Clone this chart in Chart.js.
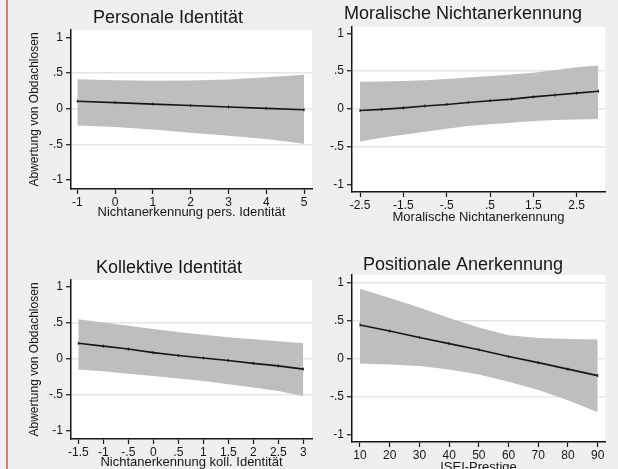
<!DOCTYPE html>
<html>
<head>
<meta charset="utf-8">
<title>Abwertung von Obdachlosen</title>
<script src="https://cdn.jsdelivr.net/npm/chart.js@4.4.1/dist/chart.umd.min.js"></script>
<style>
  html, body { margin: 0; padding: 0; background: #efefef; }
  #page { position: relative; width: 618px; height: 469px; overflow: hidden; background: #efefef; }
  #page canvas { position: absolute; left: 0; top: 0; }
  #edge { position: absolute; left: 6px; top: 0; width: 2px; height: 469px; background: #e27a64; }
</style>
</head>
<body>
<div id="page">
  <div id="edge"></div>
  <canvas id="pers" width="618" height="469"></canvas>
  <canvas id="moral" width="618" height="469"></canvas>
  <canvas id="koll" width="618" height="469"></canvas>
  <canvas id="isei" width="618" height="469"></canvas>
</div>
<script>
// Shared y axis: predicted devaluation of homeless people
const yTickValues = [-1, -0.5, 0, 0.5, 1];
const yTickLabels = ['-1', '-.5', '0', '.5', '1'];
const yTitle = 'Abwertung von Obdachlosen';

// Personale Identität
const persX = [-1, 0, 1, 2, 3, 4, 5];
const persFit = [0.105, 0.085, 0.065, 0.045, 0.025, 0.005, -0.015];
const persLo = [-0.235, -0.257, -0.29, -0.336, -0.378, -0.425, -0.49];
const persHi = [0.415, 0.40, 0.393, 0.395, 0.41, 0.44, 0.475];
const persTicks = [-1, 0, 1, 2, 3, 4, 5];
const persTickLabels = ['-1', '0', '1', '2', '3', '4', '5'];

// Moralische Nichtanerkennung
const moralX = [-2.5, -2, -1.5, -1, -0.5, 0, 0.5, 1, 1.5, 2, 2.5, 3];
const moralFit = [-0.02, -0.005, 0.015, 0.04, 0.06, 0.085, 0.11, 0.13, 0.16, 0.185, 0.21, 0.235];
const moralLo = [-0.43, -0.38, -0.34, -0.30, -0.26, -0.225, -0.20, -0.18, -0.16, -0.145, -0.138, -0.132];
const moralHi = [0.36, 0.364, 0.37, 0.38, 0.395, 0.415, 0.435, 0.455, 0.478, 0.515, 0.55, 0.575];
const moralTicks = [-2.5, -1.5, -0.5, 0.5, 1.5, 2.5];
const moralTickLabels = ['-2.5', '-1.5', '-.5', '.5', '1.5', '2.5'];

// Kollektive Identität
const kollX = [-1.5, -1, -0.5, 0, 0.5, 1, 1.5, 2, 2.5, 3];
const kollFit = [0.215, 0.175, 0.135, 0.085, 0.045, 0.01, -0.025, -0.065, -0.10, -0.145];
const kollLo = [-0.15, -0.175, -0.21, -0.24, -0.275, -0.31, -0.355, -0.40, -0.45, -0.52];
const kollHi = [0.55, 0.505, 0.46, 0.415, 0.372, 0.335, 0.30, 0.27, 0.245, 0.215];
const kollTicks = [-1.5, -1, -0.5, 0, 0.5, 1, 1.5, 2, 2.5, 3];
const kollTickLabels = ['-1.5', '-1', '-.5', '0', '.5', '1', '1.5', '2', '2.5', '3'];

// Positionale Anerkennung (ISEI-Prestige)
const iseiX = [10, 20, 30, 40, 50, 60, 70, 80, 90];
const iseiFit = [0.445, 0.365, 0.28, 0.20, 0.12, 0.03, -0.05, -0.135, -0.22];
const iseiLo = [-0.06, -0.075, -0.095, -0.14, -0.205, -0.30, -0.41, -0.545, -0.70];
const iseiHi = [0.92, 0.80, 0.675, 0.535, 0.41, 0.31, 0.275, 0.26, 0.255];
const iseiTicks = [10, 20, 30, 40, 50, 60, 70, 80, 90];
const iseiTickLabels = ['10', '20', '30', '40', '50', '60', '70', '80', '90'];

const FONT = '"Liberation Sans", Arial, Helvetica, sans-serif';
const INK = '#161616';
const BAND = '#bebebe';
const PAGE_W = 618, PAGE_H = 469;
const Y_AXIS_W = 45, X_AXIS_H = 26;

const pts = (xs, ys) => xs.map((x, i) => ({ x: x, y: ys[i] }));

// White plot region, headings and axis titles
const panelText = {
  id: 'panelText',
  beforeDraw(chart) {
    const a = chart.chartArea, ctx = chart.ctx;
    ctx.save();
    ctx.fillStyle = '#ffffff';
    ctx.fillRect(a.left, a.top, a.right - a.left, a.bottom - a.top);
    ctx.restore();
  },
  afterDraw(chart, args, o) {
    const a = chart.chartArea, ctx = chart.ctx;
    ctx.save();
    ctx.fillStyle = INK;
    ctx.textAlign = 'center';
    ctx.textBaseline = 'alphabetic';
    ctx.font = '18px ' + FONT;
    ctx.fillText(o.heading, o.headingX, o.headingY);
    ctx.font = '13px ' + FONT;
    ctx.fillText(o.xTitle, (a.left + a.right) / 2, a.bottom + o.xTitleGap);
    if (o.yTitle) {
      ctx.translate(o.yTitleX, (a.top + a.bottom) / 2);
      ctx.rotate(-Math.PI / 2);
      ctx.font = '12px ' + FONT;
      ctx.fillText(o.yTitle, 0, 0);
    }
    ctx.restore();
  }
};

function makePanel(id, p) {
  const gridAt = p.gridAt;
  new Chart(document.getElementById(id), {
    type: 'line',
    data: {
      datasets: [
        // confidence band: upper edge filled down to the lower edge
        { data: pts(p.x, p.hi), order: 2, borderWidth: 0, borderColor: BAND, backgroundColor: BAND,
          pointRadius: 0, fill: '+1', tension: 0 },
        { data: pts(p.x, p.lo), order: 3, borderWidth: 0, borderColor: BAND, backgroundColor: BAND,
          pointRadius: 0, fill: false, tension: 0 },
        // predicted values on top
        { data: pts(p.x, p.fit), order: 0, borderWidth: 1.6, borderColor: INK, fill: false, tension: 0,
          pointStyle: 'line', pointRotation: 90, pointRadius: 1.5, pointBorderWidth: 1,
          pointBorderColor: INK, pointBackgroundColor: INK }
      ]
    },
    options: {
      responsive: false,
      animation: false,
      events: [],
      layout: {
        padding: {
          left: p.area.l - Y_AXIS_W,
          top: p.area.t,
          right: PAGE_W - p.area.r,
          bottom: PAGE_H - p.area.b - X_AXIS_H
        }
      },
      plugins: {
        legend: { display: false },
        tooltip: { enabled: false },
        panelText: {
          heading: p.heading, headingX: p.headingX, headingY: p.headingY,
          xTitle: p.xTitle, xTitleGap: p.xTitleGap,
          yTitle: p.yTitle, yTitleX: p.yTitleX
        }
      },
      scales: {
        x: {
          type: 'linear',
          min: p.xMin, max: p.xMax,
          afterBuildTicks: s => { s.ticks = p.xTicks.map(v => ({ value: v })); },
          afterFit: s => { s.height = X_AXIS_H; },
          ticks: {
            autoSkip: false, maxRotation: 0, padding: 1,
            color: INK, font: { family: FONT, size: 12 },
            callback: (v, i) => p.xLabels[i]
          },
          grid: { drawOnChartArea: false, drawTicks: true, tickLength: 5,
                  tickColor: INK, tickWidth: 1.2 },
          border: { display: true, color: INK, width: 1.5 }
        },
        y: {
          type: 'linear',
          min: p.yMin, max: p.yMax,
          afterBuildTicks: s => { s.ticks = yTickValues.map(v => ({ value: v })); },
          afterFit: s => { s.width = Y_AXIS_W; },
          ticks: {
            autoSkip: false, padding: 3,
            color: INK, font: { family: FONT, size: 12 },
            callback: (v, i) => yTickLabels[i]
          },
          grid: {
            drawTicks: true, tickLength: 5, tickColor: INK, tickWidth: 1.2,
            lineWidth: 1.5,
            color: c => (c.tick && gridAt.includes(c.tick.value)) ? '#e6e6e6' : 'rgba(0,0,0,0)'
          },
          border: { display: true, color: INK, width: 1.5 }
        }
      }
    },
    plugins: [panelText]
  });
}

makePanel('pers', {
  area: { l: 71, t: 30, r: 312, b: 189 },
  xMin: -1.167, xMax: 5.21, yMin: -1.126, yMax: 1.104,
  x: persX, fit: persFit, lo: persLo, hi: persHi,
  xTicks: persTicks, xLabels: persTickLabels,
  gridAt: [-0.5, 0, 0.5],
  heading: 'Personale Identität', headingX: 168, headingY: 23,
  xTitle: 'Nichtanerkennung pers. Identität', xTitleGap: 27,
  yTitle: yTitle, yTitleX: 38
});

makePanel('moral', {
  area: { l: 352, t: 27, r: 605, b: 192 },
  xMin: -2.685, xMax: 3.153, yMin: -1.096, yMax: 1.083,
  x: moralX, fit: moralFit, lo: moralLo, hi: moralHi,
  xTicks: moralTicks, xLabels: moralTickLabels,
  gridAt: [-0.5, 0, 0.5],
  heading: 'Moralische Nichtanerkennung', headingX: 463, headingY: 19,
  xTitle: 'Moralische Nichtanerkennung', xTitleGap: 28.5,
  yTitle: null
});

makePanel('koll', {
  area: { l: 71, t: 280, r: 312, b: 439 },
  xMin: -1.646, xMax: 3.174, yMin: -1.12, yMax: 1.098,
  x: kollX, fit: kollFit, lo: kollLo, hi: kollHi,
  xTicks: kollTicks, xLabels: kollTickLabels,
  gridAt: [-0.5, 0, 0.5],
  heading: 'Kollektive Identität', headingX: 169, headingY: 273,
  xTitle: 'Nichtanerkennung koll. Identität', xTitleGap: 27,
  yTitle: yTitle, yTitleX: 38
});

makePanel('isei', {
  area: { l: 352, t: 275, r: 605, b: 442 },
  xMin: 7.31, xMax: 92.46, yMin: -1.092, yMax: 1.101,
  x: iseiX, fit: iseiFit, lo: iseiLo, hi: iseiHi,
  xTicks: iseiTicks, xLabels: iseiTickLabels,
  gridAt: [-0.5, 0, 0.5, 1],
  heading: 'Positionale Anerkennung', headingX: 463, headingY: 270,
  xTitle: 'ISEI-Prestige', xTitleGap: 29,
  yTitle: null
});
</script>
</body>
</html>
